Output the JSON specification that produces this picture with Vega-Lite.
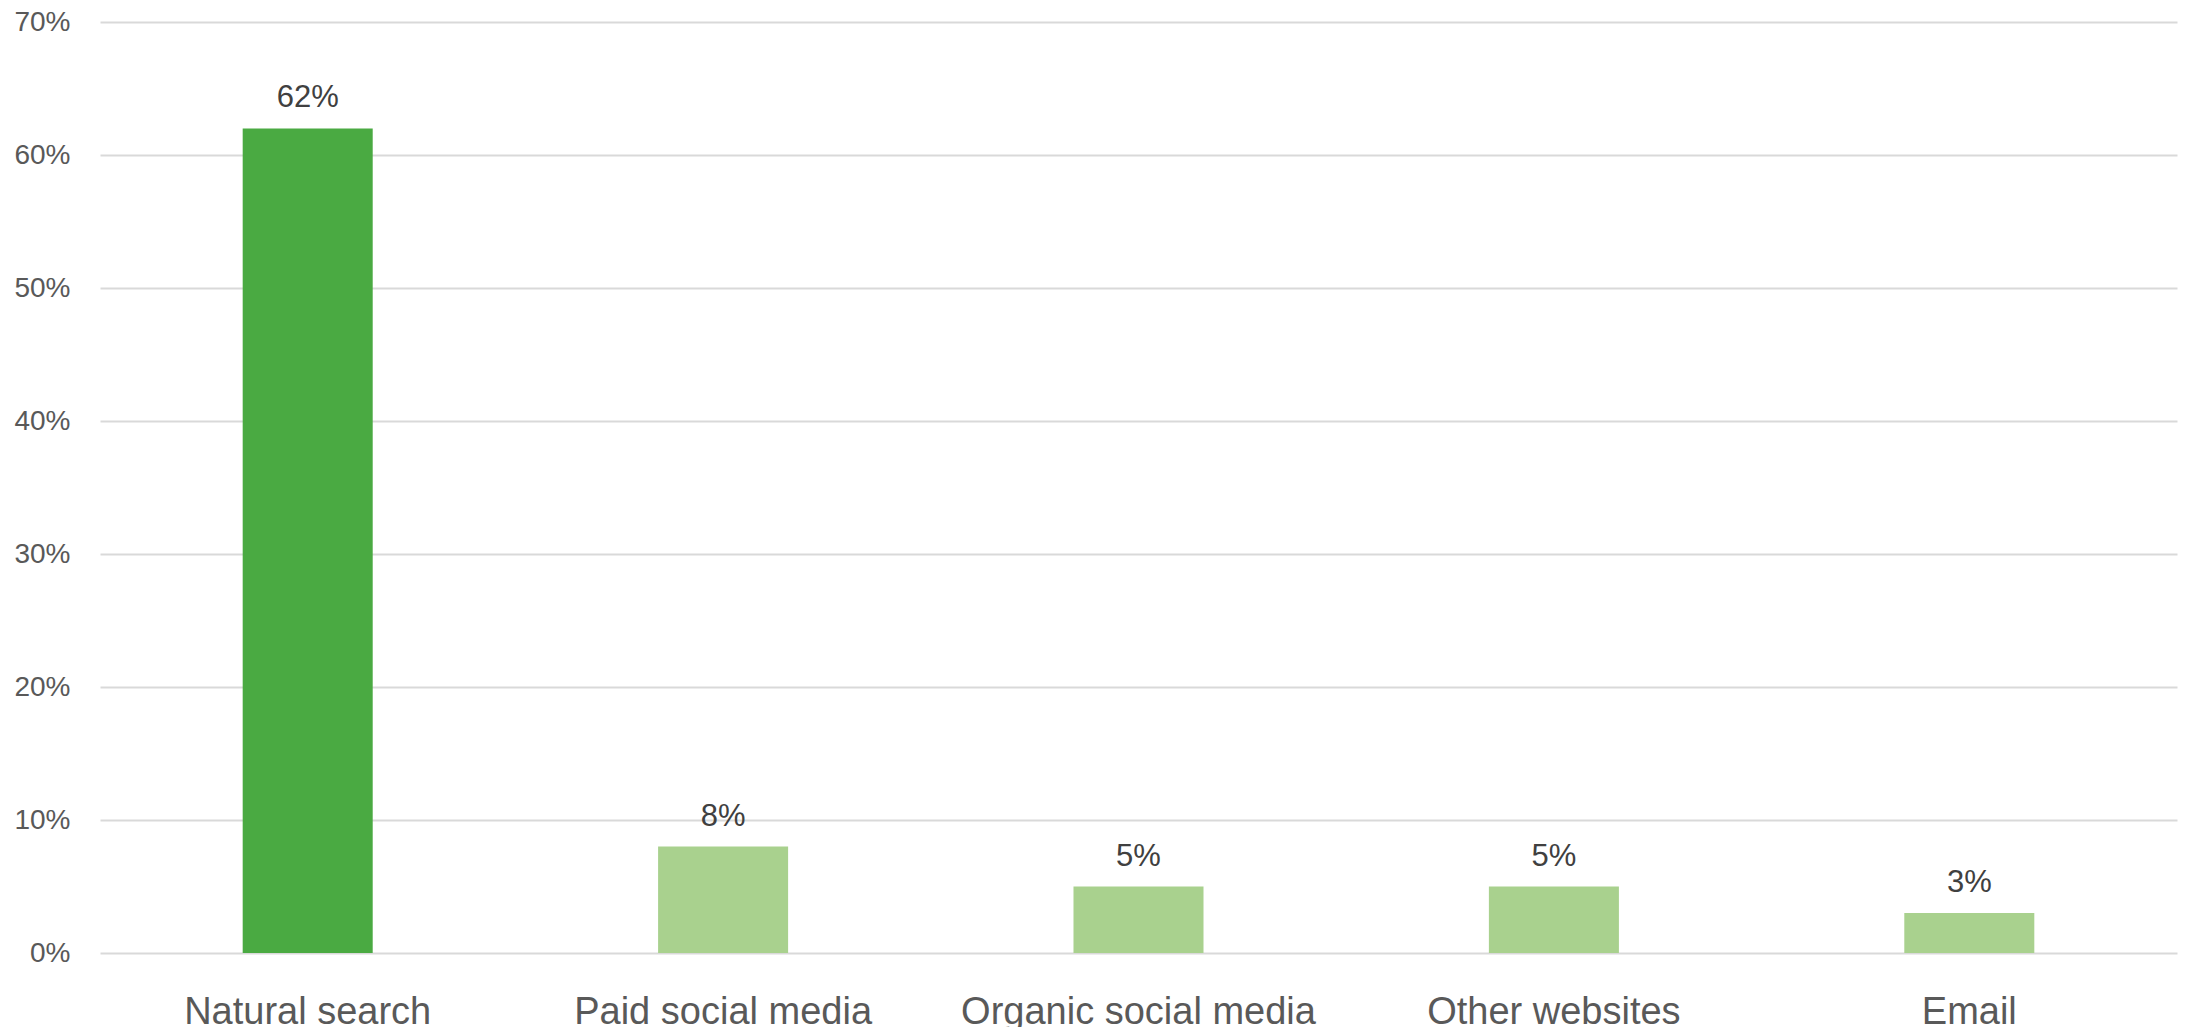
{
  "$schema": "https://vega.github.io/schema/vega-lite/v6.json",
  "autosize": {"type": "none"},
  "width": 2077,
  "height": 931,
  "padding": {"left": 100, "top": 22, "right": 11, "bottom": 74},
  "background": "white",
  "config": {"view": {"stroke": null}, "font": "Liberation Sans"},
  "data": {
    "values": [
      {"source": "Natural search", "share": 0.62},
      {"source": "Paid social media", "share": 0.08},
      {"source": "Organic social media", "share": 0.05},
      {"source": "Other websites", "share": 0.05},
      {"source": "Email", "share": 0.03}
    ]
  },
  "encoding": {
    "x": {
      "field": "source",
      "type": "nominal",
      "sort": null,
      "scale": {"paddingInner": 0.687, "paddingOuter": 0.3435},
      "axis": {
        "title": null,
        "domain": false,
        "ticks": false,
        "labelAngle": 0,
        "labelFont": "Liberation Sans",
        "labelFontSize": 38,
        "labelColor": "#595959",
        "labelBaseline": "alphabetic",
        "labelPadding": 70,
        "labelOverlap": false,
        "labelLimit": 0
      }
    },
    "y": {
      "field": "share",
      "type": "quantitative",
      "scale": {"domain": [0, 0.7], "nice": false},
      "axis": {
        "title": null,
        "domain": false,
        "ticks": false,
        "values": [0, 0.1, 0.2, 0.3, 0.4, 0.5, 0.6, 0.7],
        "format": ".0%",
        "labelFont": "Liberation Sans",
        "labelFontSize": 28,
        "labelColor": "#595959",
        "labelPadding": 30,
        "grid": true,
        "gridColor": "#D9D9D9",
        "gridWidth": 2
      }
    }
  },
  "layer": [
    {
      "mark": {"type": "bar"},
      "encoding": {
        "color": {
          "condition": {"test": "datum.source === 'Natural search'", "value": "#4AAA42"},
          "value": "#A9D18E"
        }
      }
    },
    {
      "mark": {"type": "text", "baseline": "alphabetic", "dy": -21, "font": "Liberation Sans", "fontSize": 31, "color": "#404040"},
      "encoding": {
        "text": {"field": "share", "type": "quantitative", "format": ".0%"}
      }
    }
  ]
}
